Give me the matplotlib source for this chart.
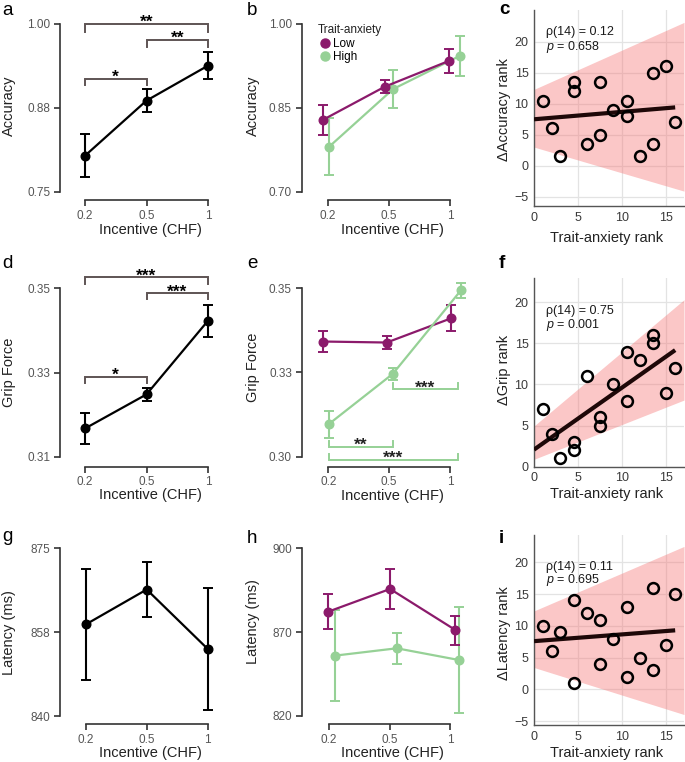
import matplotlib
matplotlib.use('Agg')
import matplotlib.pyplot as plt
import numpy as np
from matplotlib.lines import Line2D

# ---------------- data ----------------
incentive_labels = ['0.2', '0.5', '1']

acc_mean = [0.804, 0.886, 0.938]
acc_sem = [0.032, 0.017, 0.020]
acc_low_mean = [0.829, 0.888, 0.934]
acc_low_sem = [0.027, 0.012, 0.021]
acc_high_mean = [0.781, 0.884, 0.943]
acc_high_sem = [0.051, 0.034, 0.036]

grip_mean = [0.3167, 0.3248, 0.3423]
grip_sem = [0.0037, 0.0015, 0.0038]
grip_low_mean = [0.3342, 0.3339, 0.3411]
grip_low_sem = [0.0030, 0.0018, 0.0038]
grip_high_mean = [0.3097, 0.3246, 0.3494]
grip_high_sem = [0.0040, 0.0017, 0.0022]

lat_mean = [859.1, 866.4, 854.0]
lat_sem = [11.6, 5.8, 12.7]
lat_low_mean = [869.8, 880.6, 861.0]
lat_low_sem = [8.4, 9.5, 6.9]
lat_high_mean = [848.8, 852.3, 846.7]
lat_high_sem = [21.7, 7.5, 25.4]

trait_rank = [1, 2, 3, 4.5, 4.5, 6, 7.5, 7.5, 9, 10.5, 10.5, 12, 13.5, 13.5, 15, 16]
d_acc_rank = [10.5, 6, 1.5, 13.5, 12, 3.5, 13.5, 5, 9, 10.5, 8, 1.5, 15, 3.5, 16, 7]
d_grip_rank = [7, 4, 1, 3, 2, 11, 6, 5, 10, 14, 8, 13, 16, 15, 9, 12]
d_lat_rank = [10, 6, 9, 14, 1, 12, 11, 4, 8, 13, 2, 5, 16, 3, 7, 15]

band_x = [0, 17]
acc_band_lo = [3.0, -4.1]
acc_band_hi = [12.3, 23.1]
grip_band_lo = [0.9, 8.1]
grip_band_hi = [4.95, 20.3]
lat_band_lo = [3.45, -3.95]
lat_band_hi = [12.35, 22.5]

stats_acc = ['\u03c1(14) = 0.12', '$p$ = 0.658']
stats_grip = ['\u03c1(14) = 0.75', '$p$ = 0.001']
stats_lat = ['\u03c1(14) = 0.11', '$p$ = 0.695']

# ---------------- style ----------------
plt.rcParams['font.family'] = ['Liberation Sans', 'DejaVu Sans']
plt.rcParams['mathtext.fontset'] = 'custom'
plt.rcParams['mathtext.it'] = 'Liberation Sans:italic'
plt.rcParams['mathtext.rm'] = 'Liberation Sans'

W, H = 685, 762
PURPLE = '#8b1a6b'
GREEN = '#96d196'
BRK = '#5e5454'
SPINE = '#333333'
TICKC = '#555555'

fig = plt.figure(figsize=(W / 100, H / 100), dpi=100)


def fpos(px, py):
    return (px / W, 1 - py / H)


def line_axes(left, bottom, right, top, x0px, x2px, ylo, ylo_px, yhi, yhi_px,
              yticks, yticklabels, ylabel, ylab_xy, xlab_xy):
    ax = fig.add_axes([left / W, 1 - bottom / H, (right - left) / W, (bottom - top) / H])
    dpp = 2 / (x2px - x0px)
    ax.set_xlim(-(x0px - left) * dpp, 2 + (right - x2px) * dpp)
    vpp = (yhi - ylo) / (ylo_px - yhi_px)
    ax.set_ylim(ylo - (bottom - ylo_px) * vpp, yhi + (yhi_px - top) * vpp)
    ax.patch.set_visible(False)
    for s in ['top', 'right']:
        ax.spines[s].set_visible(False)
    for s in ['left', 'bottom']:
        ax.spines[s].set_color(SPINE)
        ax.spines[s].set_linewidth(1.2)
    ax.spines['left'].set_bounds(ylo, yhi)
    ax.spines['bottom'].set_bounds(0, 2)
    ax.set_xticks([0, 1, 2])
    ax.set_xticklabels(incentive_labels)
    ax.set_yticks(yticks)
    ax.set_yticklabels(yticklabels)
    ax.tick_params(direction='out', length=4.5, width=1.2, color=SPINE,
                   labelcolor=TICKC, labelsize=8.5, pad=2.5)
    ax.set_ylabel(ylabel, fontsize=10.5, color='#222222', va='center')
    ax.yaxis.set_label_coords(*fpos(*ylab_xy), transform=fig.transFigure)
    ax.set_xlabel('Incentive (CHF)', fontsize=10.5, color='#222222', va='center')
    ax.xaxis.set_label_coords(*fpos(*xlab_xy), transform=fig.transFigure)
    return ax


def draw_err(ax, x, m, s, color, z=3):
    ax.errorbar(x, m, yerr=s, color=color, marker='o', ms=6.2, lw=1.6,
                elinewidth=1.5, capsize=3.3, capthick=1.4, zorder=z, clip_on=False)


def bracket(ax, x1, x2, y_line, y_leg, text, color, tcolor='black', off=-2.2):
    ax.plot([x1, x1, x2, x2], [y_leg, y_line, y_line, y_leg], color=color, lw=1.4,
            clip_on=False, solid_joinstyle='miter')
    ax.annotate(text, xy=((x1 + x2) / 2, y_line), xytext=(0, off), textcoords='offset points',
                ha='center', va='baseline', fontsize=12.5, fontweight='bold', color=tcolor,
                annotation_clip=False)


def scatter_axes(left, bottom, right, top, ylim, yticks, y, lo, hi, stats, stat_y,
                 ylabel, ylab_xy, xlab_xy):
    ax = fig.add_axes([left / W, 1 - bottom / H, (right - left) / W, (bottom - top) / H])
    ax.set_xlim(0, 17)
    ax.set_ylim(*ylim)
    ax.set_xticks([0, 5, 10, 15])
    ax.set_yticks(yticks)
    ax.grid(True, color='#e3e3e3', lw=0.9)
    ax.set_axisbelow(True)
    for s in ['top', 'right']:
        ax.spines[s].set_visible(False)
    for s in ['left', 'bottom']:
        ax.spines[s].set_color('#555555')
        ax.spines[s].set_linewidth(1.0)
    ax.tick_params(length=0, labelcolor='#3a3a3a', labelsize=9, pad=4)
    ax.fill_between(band_x, lo, hi, color=(0.96, 0.45, 0.45), alpha=0.4, lw=0, zorder=1)
    xs = np.array(trait_rank, dtype=float)
    coef = np.polyfit(xs, np.array(y, dtype=float), 1)
    xl = np.array([0, 16])
    ax.plot(xl, np.polyval(coef, xl), color='#1e0808', lw=3.0, zorder=3, solid_capstyle='butt')
    ax.plot(trait_rank, y, 'o', ms=7.8, mfc='none', mec='black', mew=1.8, zorder=4, clip_on=False)
    ax.text(1.4, stat_y[0], stats[0], fontsize=9, va='center', ha='left', color='#1a1a1a')
    ax.text(1.4, stat_y[1], stats[1], fontsize=9, va='center', ha='left', color='#1a1a1a')
    ax.set_ylabel(ylabel, fontsize=10.5, color='#222222', va='center')
    ax.yaxis.set_label_coords(*fpos(*ylab_xy), transform=fig.transFigure)
    ax.set_xlabel('Trait-anxiety rank', fontsize=10.5, color='#222222', va='center')
    ax.xaxis.set_label_coords(*fpos(*xlab_xy), transform=fig.transFigure)
    return ax


x3 = np.array([0, 1, 2], dtype=float)

# ---------------- row 1: accuracy ----------------
ax_a = line_axes(60, 200, 220, 10, 85, 208, 0.75, 192, 1.00, 24,
                 [0.75, 0.875, 1.00], ['0.75', '0.88', '1.00'], 'Accuracy', (9, 106), (150, 230))
draw_err(ax_a, x3, acc_mean, acc_sem, 'black')
bracket(ax_a, 0, 2, 1.000, 0.988, '**', BRK)
bracket(ax_a, 1, 2, 0.976, 0.966, '**', BRK)
bracket(ax_a, 0, 1, 0.918, 0.909, '*', BRK)

ax_b = line_axes(301.7, 200, 470, 10, 328, 450, 0.70, 192, 1.00, 24,
                 [0.70, 0.85, 1.00], ['0.70', '0.85', '1.00'], 'Accuracy', (253, 106), (392, 230))
draw_err(ax_b, x3 + np.array([-0.08, -0.07, -0.02]), acc_low_mean, acc_low_sem, PURPLE)
draw_err(ax_b, x3 + np.array([0.02, 0.07, 0.16]), acc_high_mean, acc_high_sem, GREEN, z=2)
handles = [Line2D([], [], marker='o', ls='none', color=PURPLE, ms=6.5),
           Line2D([], [], marker='o', ls='none', color=GREEN, ms=6.5)]
leg = ax_b.legend(handles, ['Low', 'High'], title='Trait-anxiety', frameon=False,
                  loc='upper left', bbox_to_anchor=fpos(312, 18), bbox_transform=fig.transFigure,
                  fontsize=8.5, title_fontsize=8.5, handletextpad=0.1, handlelength=1.2,
                  borderpad=0, labelspacing=0.15, alignment='left')
leg.get_title().set_color('#222222')

ax_c = scatter_axes(534, 206, 684, 10, (-6.5, 25.1), [-5, 0, 5, 10, 15, 20], d_acc_rank,
                    acc_band_lo, acc_band_hi, stats_acc, (21.5, 19.2), '\u0394Accuracy rank',
                    (504, 110), (607, 238))

# ---------------- row 2: grip force ----------------
ax_d = line_axes(60, 466.7, 220, 262, 85, 208, 0.31, 456.7, 0.35, 288.3,
                 [0.31, 0.33, 0.35], ['0.31', '0.33', '0.35'], 'Grip Force', (9, 372), (150, 495))
draw_err(ax_d, x3, grip_mean, grip_sem, 'black')
bracket(ax_d, 0, 2, 0.3526, 0.3510, '***', BRK)
bracket(ax_d, 1, 2, 0.3488, 0.3474, '***', BRK)
bracket(ax_d, 0, 1, 0.3290, 0.3274, '*', BRK)

ax_e = line_axes(301.7, 466.7, 470, 262, 328.3, 450, 0.30, 456.7, 0.35, 288.3,
                 [0.30, 0.325, 0.35], ['0.30', '0.33', '0.35'], 'Grip Force', (253, 367), (392, 496))
draw_err(ax_e, x3 + np.array([-0.09, -0.04, 0.02]), grip_low_mean, grip_low_sem, PURPLE)
draw_err(ax_e, x3 + np.array([0.01, 0.06, 0.18]), grip_high_mean, grip_high_sem, GREEN, z=4)
bracket(ax_e, 1.06, 2.13, 0.3200, 0.3218, '***', GREEN, tcolor='#222222')
bracket(ax_e, 0.01, 1.06, 0.3030, 0.3048, '**', GREEN, tcolor='#222222')
bracket(ax_e, 0.01, 2.13, 0.2990, 0.3008, '***', GREEN, tcolor='#222222')

ax_f = scatter_axes(534, 466.7, 684, 278.3, (0, 22.9), [0, 5, 10, 15, 20], d_grip_rank,
                    grip_band_lo, grip_band_hi, stats_grip, (18.9, 17.2), '\u0394Grip rank',
                    (504, 370), (607, 494))

# ---------------- row 3: latency ----------------
ax_g = line_axes(60, 724, 220, 530, 85.7, 207.7, 840, 716, 875, 548.3,
                 [840, 857.5, 875], ['840', '858', '875'], 'Latency (ms)', (9, 633), (150, 753))
draw_err(ax_g, x3, lat_mean, lat_sem, 'black')

ax_h = line_axes(301.7, 724, 470, 530, 329, 450, 820, 716, 900, 548.3,
                 [820, 860, 900], ['820', '870', '900'], 'Latency (ms)', (253, 622), (392, 753))
draw_err(ax_h, x3 + np.array([-0.01, 0.01, 0.09]), lat_low_mean, lat_low_sem, PURPLE)
draw_err(ax_h, x3 + np.array([0.10, 0.12, 0.15]), lat_high_mean, lat_high_sem, GREEN, z=2)

ax_i = scatter_axes(534, 725, 684, 535, (-5.6, 24.3), [-5, 0, 5, 10, 15, 20], d_lat_rank,
                    lat_band_lo, lat_band_hi, stats_lat, (19.3, 17.2), '\u0394Latency rank',
                    (504, 633), (607, 753))

# ---------------- panel letters ----------------
for letter, (px, py) in {'a': (2, 15), 'b': (247, 15), 'c': (499, 14),
                         'd': (2, 268), 'e': (247, 268), 'f': (499, 268),
                         'g': (2, 541), 'h': (247, 543), 'i': (499, 543)}.items():
    fig.text(*fpos(px, py), letter, fontsize=13.5, ha='left', va='baseline',
             fontweight='bold' if letter in 'cfi' else 'normal')

fig.savefig('out.png', dpi=100)
